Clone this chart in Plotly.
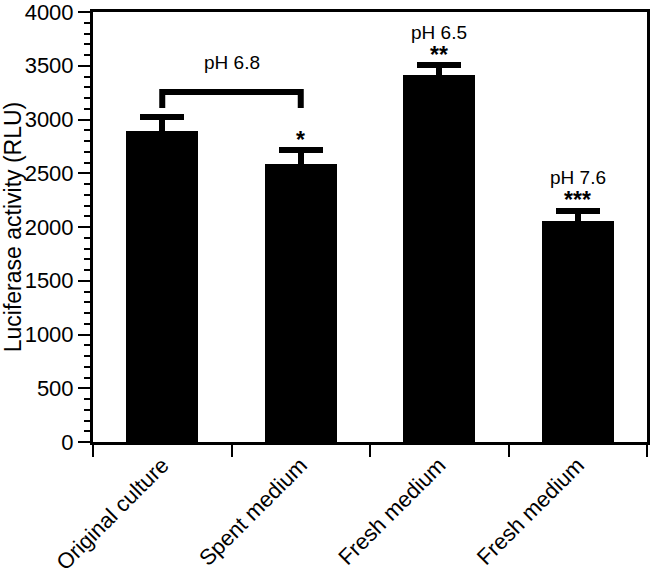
import plotly.graph_objects as go

categories = ["Original culture", "Spent medium", "Fresh medium", "Fresh medium"]
values = [2896, 2586, 3411, 2059]
errors = [123, 130, 93, 93]
ph_labels = ["", "", "pH 6.5", "pH 7.6"]
ph_y = [None, None, 3805, 2465]
stars = ["", "*", "**", "***"]
star_y = [None, 2812, 3598, 2250]
bracket_x = [0, 0, 1, 1]
bracket_y = [3107, 3256, 3256, 3107]
bracket_label = "pH 6.8"
bracket_label_y = 3526
y_ticks = [0, 500, 1000, 1500, 2000, 2500, 3000, 3500, 4000]

FONT = "Liberation Sans, Arial, Helvetica, sans-serif"
xs = list(range(len(categories)))

fig = go.Figure()
fig.add_trace(go.Bar(
    x=xs, y=values, width=0.52,
    marker=dict(color="black", line=dict(width=0)),
    error_y=dict(type="data", array=errors, symmetric=True,
                 color="black", thickness=6, width=22),
    showlegend=False,
))
fig.add_trace(go.Scatter(
    x=bracket_x, y=bracket_y, mode="lines",
    line=dict(color="black", width=6), showlegend=False, hoverinfo="skip",
))
# invisible trace so that the label axis is drawn
fig.add_trace(go.Scatter(
    x=xs, y=values, xaxis="x2", mode="markers", marker=dict(opacity=0),
    showlegend=False, hoverinfo="skip",
))

annotations = [dict(x=0.5, y=bracket_label_y, xref="x", yref="y", text=bracket_label,
                    showarrow=False, font=dict(family=FONT, size=19, color="black"))]
for i in xs:
    if ph_labels[i]:
        annotations.append(dict(x=i, y=ph_y[i], xref="x", yref="y", text=ph_labels[i],
                                showarrow=False, font=dict(family=FONT, size=19, color="black")))
    if stars[i]:
        annotations.append(dict(x=i, y=star_y[i], xref="x", yref="y", text="<b>%s</b>" % stars[i],
                                showarrow=False, font=dict(family=FONT, size=23, color="black")))

fig.update_layout(
    width=651, height=576,
    margin=dict(l=93, r=4, t=12, b=134),
    paper_bgcolor="white", plot_bgcolor="white",
    font=dict(family=FONT, color="black"),
    bargap=0,
    annotations=annotations,
    xaxis=dict(
        range=[-0.5, 3.5], tickmode="array", tickvals=[-0.5, 0.5, 1.5, 2.5, 3.5],
        showticklabels=False, ticks="outside", ticklen=12, tickwidth=2, tickcolor="black",
        showline=True, linecolor="black", linewidth=2.5, mirror=True,
        showgrid=False, zeroline=False, automargin=False,
    ),
    xaxis2=dict(
        overlaying="x", anchor="y", side="bottom",
        range=[-0.5, 3.5], tickmode="array", tickvals=xs, ticktext=categories,
        ticks="", tickangle=-45, tickfont=dict(family=FONT, size=22, color="black"),
        showline=False, showgrid=False, zeroline=False, ticklabelstandoff=5,
        automargin=False, ticklabeloverflow="allow",
    ),
    yaxis=dict(
        range=[0, 4000], tickmode="array", tickvals=y_ticks,
        ticks="outside", ticklen=12, tickwidth=2, tickcolor="black",
        tickfont=dict(family=FONT, size=22, color="black"),
        minor=dict(dtick=100, ticks="outside", ticklen=6, tickwidth=1.5, tickcolor="black"),
        showline=True, linecolor="black", linewidth=3, mirror=True,
        showgrid=False, zeroline=False, automargin=False, ticklabeloverflow="allow",
        title=dict(text="Luciferase activity (RLU)", font=dict(family=FONT, size=23, color="black"),
                   standoff=6),
    ),
)

fig.write_html("out.html", config={"displayModeBar": False},
               post_script="document.body.style.margin='0';")
